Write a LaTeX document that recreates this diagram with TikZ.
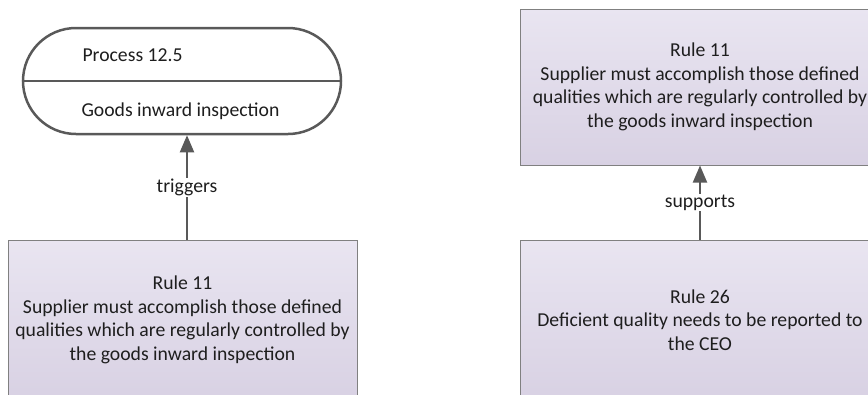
\documentclass[tikz,border=0pt]{standalone}
\usepackage{fontspec}
\setmainfont{Carlito}
\usetikzlibrary{arrows.meta,shapes.misc}
\definecolor{boxtop}{RGB}{233,229,241}
\definecolor{boxbot}{RGB}{216,209,227}
\definecolor{edgegray}{RGB}{128,128,128}
\definecolor{ink}{RGB}{89,89,89}
\definecolor{txt}{RGB}{30,30,30}

\begin{document}
\begin{tikzpicture}[x=1pt,y=-1pt,
  every node/.style={font=\fontsize{19.7}{23.5}\selectfont, text=txt},
  rulebox/.style={draw=edgegray, line width=1pt, top color=boxtop, bottom color=boxbot,
    minimum height=156pt, align=center, inner sep=0pt},
  procshape/.style={draw=ink, line width=2.5pt, rounded rectangle,
    minimum width=318pt, minimum height=106pt, inner sep=0pt},
  conn/.style={draw=ink, line width=2pt, -{Triangle[length=17pt,width=14pt]}},
  rel/.style={fill=white, inner sep=1pt}
]
\clip (0,0) rectangle (868,394);
\fill[white] (0,0) rectangle (868,394);

% process shape with its two compartments
\node[procshape] (proc) at (182,81) {};
\draw[draw=ink, line width=2.5pt] (proc.west) -- (proc.east);
\node[anchor=base west] (ptitle) at (79,61) {Process 12.5};
\node[anchor=base west] (pname) at (78,116) {Goods inward inspection};

% rule boxes
\node[rulebox, minimum width=349pt, minimum height=160pt] (rA) at (182.5,320)
  {Rule 11\\Supplier must accomplish those defined\\qualities which are regularly controlled by\\the goods inward inspection};
\node[rulebox, minimum width=360pt] (rB) at (700,87)
  {Rule 11\\Supplier must accomplish those defined\\qualities which are regularly controlled by\\the goods inward inspection};
\node[rulebox, minimum width=360pt, minimum height=160pt] (rC) at (700,320)
  {Rule 26\\Deficient quality needs to be reported to\\the CEO};

% relations
\coordinate (tx) at (187,0);
\draw[conn] (rA.north -| tx) -- node[rel] (trig) {triggers} (proc.south -| tx);
\draw[conn] (rC.north) -- node[rel] (supp) {supports} (rB.south);
\end{tikzpicture}
\end{document}
